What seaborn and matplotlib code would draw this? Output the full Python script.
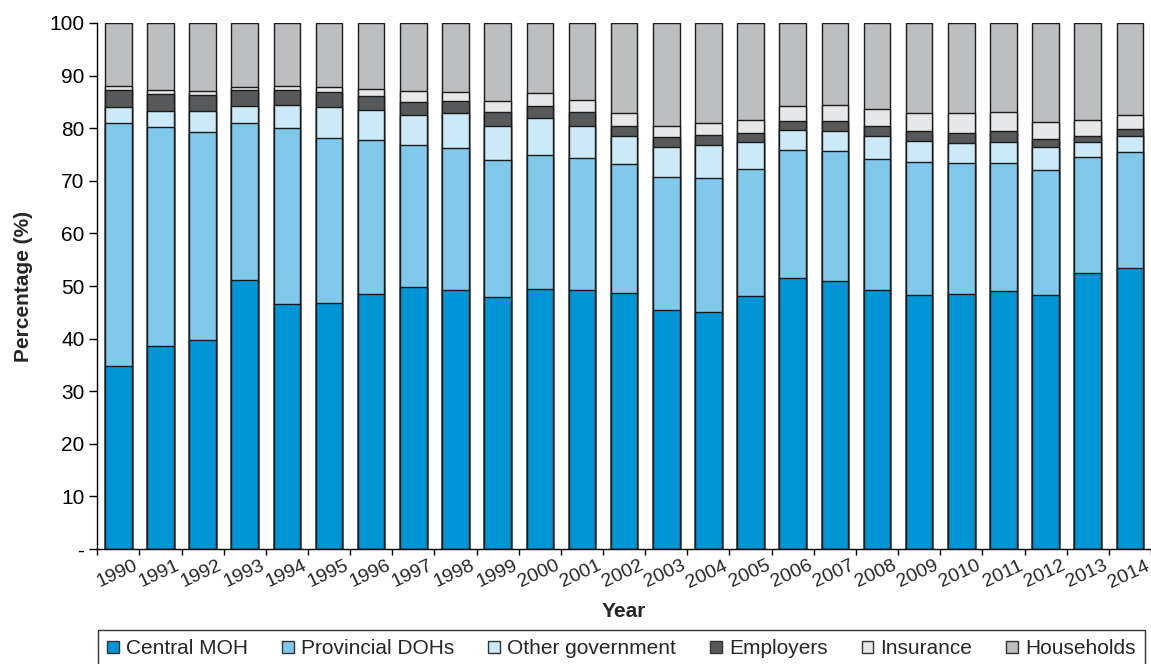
import numpy as np
import pandas as pd
import matplotlib
matplotlib.use("Agg")
import matplotlib.pyplot as plt
import matplotlib.transforms as mtransforms
from matplotlib.patches import Patch
import seaborn as sns

years = [str(y) for y in range(1990, 2015)]
central_moh = [34.8, 38.5, 39.7, 51.2, 46.6, 46.8, 48.5, 49.8, 49.2, 48.0, 49.5, 49.3, 48.6,
               45.4, 45.1, 48.1, 51.6, 51.0, 49.2, 48.2, 48.5, 49.0, 48.2, 52.5, 53.4]
provincial_dohs = [46.1, 41.8, 39.6, 29.7, 33.4, 31.4, 29.2, 27.0, 27.1, 26.0, 25.4, 25.0, 24.6,
                   25.4, 25.4, 24.1, 24.3, 24.7, 24.9, 25.3, 24.8, 24.4, 23.9, 22.1, 22.1]
other_government = [3.1, 3.0, 4.0, 3.4, 4.5, 5.9, 5.8, 5.7, 6.5, 6.4, 7.0, 6.2, 5.3,
                    5.6, 6.4, 5.2, 3.8, 3.8, 4.4, 4.1, 3.8, 4.0, 4.4, 2.8, 3.0]
employers = [3.3, 3.2, 3.1, 3.0, 2.8, 2.7, 2.6, 2.4, 2.3, 2.7, 2.3, 2.5, 2.0,
             1.9, 1.9, 1.6, 1.6, 1.8, 1.9, 1.9, 2.0, 2.0, 1.4, 1.2, 1.3]
insurance = [0.7, 0.7, 0.7, 0.6, 0.7, 1.1, 1.3, 2.1, 1.7, 2.1, 2.4, 2.3, 2.3,
             2.2, 2.2, 2.5, 2.9, 3.2, 3.2, 3.3, 3.7, 3.6, 3.2, 3.0, 2.8]
households = [12.0, 12.8, 12.9, 12.1, 12.0, 12.1, 12.6, 13.0, 13.2, 14.8, 13.4, 14.7, 17.2,
              19.5, 19.0, 18.5, 15.8, 15.5, 16.4, 17.2, 17.2, 17.0, 18.9, 18.4, 17.4]

series_names = ["Central MOH", "Provincial DOHs", "Other government", "Employers",
                "Insurance", "Households"]
series_colors = ["#0096d6", "#80c9eb", "#cce9f7", "#58595b", "#e6e7e8", "#bcbec0"]
y_ticks = [0, 10, 20, 30, 40, 50, 60, 70, 80, 90, 100]
y_tick_labels = ["-", "10", "20", "30", "40", "50", "60", "70", "80", "90", "100"]

sns.set_theme(style="white")
plt.rcParams["font.family"] = ["Liberation Sans", "DejaVu Sans"]

fig = plt.figure(figsize=(11.51, 6.64), dpi=100)
ax = fig.add_axes([97 / 1151, 1 - 549 / 664, 1 - 97 / 1151, (549 - 23) / 664])

values = np.array([central_moh, provincial_dohs, other_government, employers,
                   insurance, households])
cum = np.cumsum(values, axis=0)

# draw from the top-most cumulative level down so smaller stacks overlay
for i in range(len(series_names) - 1, -1, -1):
    df = pd.DataFrame({"year": years, "value": cum[i]})
    sns.barplot(data=df, x="year", y="value", color=series_colors[i], saturation=1,
                width=0.63, edgecolor="#1a1a1a", linewidth=1.0, ax=ax, errorbar=None)

ax.set_xlim(-0.505, 24.48)
ax.set_ylim(0, 100)
ax.set_yticks(y_ticks)
ax.set_yticklabels(y_tick_labels, fontsize=15)
ax.tick_params(axis="y", direction="out", length=6, width=1, pad=3, left=True, colors="black")
ax.tick_params(axis="x", which="major", length=0, pad=6)
ax.set_xticks(np.arange(-0.5, 25, 1), minor=True)
ax.tick_params(axis="x", which="minor", direction="out", length=4, width=1, bottom=True,
               color="black")
ax.set_xticks(range(len(years)))
ax.set_xticklabels(years, fontsize=14, rotation=25, ha="right", rotation_mode="anchor")
offset = mtransforms.ScaledTranslation(15 / 100, 0, fig.dpi_scale_trans)
for lab in ax.get_xticklabels():
    lab.set_transform(lab.get_transform() + offset)

for side in ["top", "right"]:
    ax.spines[side].set_visible(False)
for side in ["left", "bottom"]:
    ax.spines[side].set_color("black")
    ax.spines[side].set_linewidth(1)

ax.set_xlabel("Year", fontsize=15, fontweight="bold")
ax.xaxis.set_label_coords(0.5, -0.1)
ax.set_ylabel("Percentage (%)", fontsize=15, fontweight="bold")
ax.yaxis.set_label_coords(-0.0607, 0.5)

handles = [Patch(facecolor=c, edgecolor="#333333", linewidth=1) for c in series_colors]
leg = fig.legend(handles, series_names, loc="upper left",
                 bbox_to_anchor=(98 / 1151, 0, 1047 / 1151, 1 - 630 / 664),
                 mode="expand", ncol=6, fontsize=15, frameon=True, fancybox=False,
                 handlelength=0.55, handleheight=0.55, handletextpad=0.35,
                 borderpad=0.45, columnspacing=1.2, borderaxespad=0)
leg.get_frame().set_edgecolor("black")
leg.get_frame().set_linewidth(1)
# nudge legend contents right slightly to match reference padding
leg._legend_box.set_offset  # keep default packing

fig.savefig("out.png", dpi=100)
